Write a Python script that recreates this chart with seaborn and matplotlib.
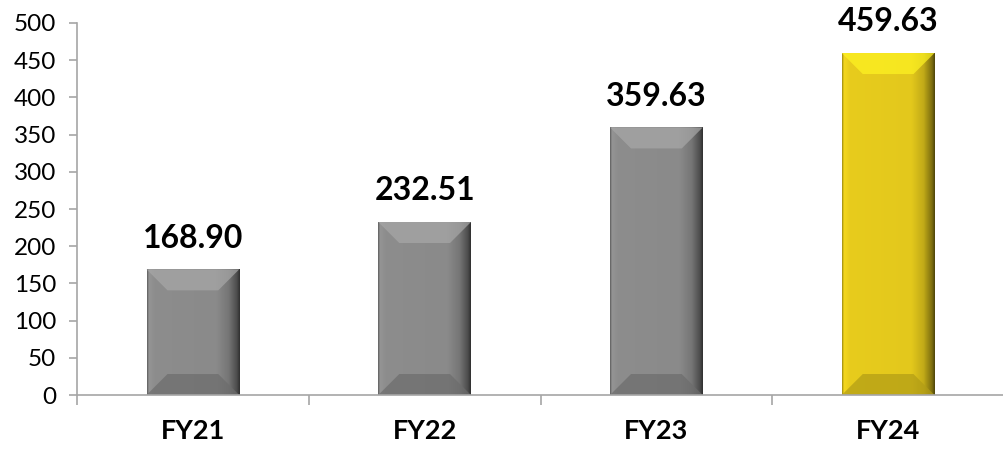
'''
Bar chart of yearly values with bevelled (Excel-style) bars.
'''
import numpy as np
import pandas as pd
import matplotlib
matplotlib.use('Agg')
import matplotlib.pyplot as plt
from matplotlib.patches import Polygon
from matplotlib.colors import to_rgb
import seaborn as sns

years = ['FY21', 'FY22', 'FY23', 'FY24']
values = [168.90, 232.51, 359.63, 459.63]
bar_colors = ['#8a8a8a', '#8a8a8a', '#8a8a8a', '#e3c81c']
yticks = list(range(0, 501, 50))

df = pd.DataFrame({'year': years, 'value': values})

sns.set_style('white')
plt.rcParams['font.family'] = ['Lato', 'DejaVu Sans']

fig = plt.figure(figsize=(10.04, 4.5), dpi=100)
ax = fig.add_axes([0.0767, 0.1222, 0.9233, 0.8267])

sns.barplot(data=df, x='year', y='value', hue='year', palette=bar_colors,
            width=0.4, legend=False, saturation=1, ax=ax)

ax.set_xlim(-0.5, 3.5)
ax.set_ylim(0, 500)
ax.set_yticks(yticks)
ax.set_xlabel('')
ax.set_ylabel('')

# bevel size in data units (about 21 px on both axes)
ax_w_px = 0.9233 * 1004
ax_h_px = 0.8267 * 450
bx = 21 / ax_w_px * 4
by = 21 / ax_h_px * 500


def shade(rgb, f):
    return tuple(np.clip(np.array(rgb) * f, 0, 1))


# horizontal shading profile across each bar
stops = [0.0, 0.02, 0.08, 0.75, 0.88, 0.97, 1.0]
mults = [0.70, 1.08, 1.02, 1.0, 0.85, 0.55, 0.35]
xs = np.linspace(0, 1, 200)
prof = np.interp(xs, stops, mults)

for patch, col in zip(ax.patches, bar_colors):
    x0 = patch.get_x()
    w = patch.get_width()
    h = patch.get_height()
    base = to_rgb(col)
    img = np.array([[shade(base, m) for m in prof]])
    im = ax.imshow(img, extent=(x0, x0 + w, 0, h), aspect='auto',
                   interpolation='bilinear', zorder=patch.get_zorder() + 0.1)
    im.set_clip_path(patch)
    top = Polygon([(x0, h), (x0 + w, h), (x0 + w - bx, h - by), (x0 + bx, h - by)],
                  closed=True, facecolor=shade(base, 1.22), edgecolor='none',
                  alpha=0.7, zorder=patch.get_zorder() + 0.2)
    bot = Polygon([(x0, 0), (x0 + w, 0), (x0 + w - bx, by), (x0 + bx, by)],
                  closed=True, facecolor=shade(base, 0.78), edgecolor='none',
                  alpha=0.7, zorder=patch.get_zorder() + 0.2)
    ax.add_patch(top)
    ax.add_patch(bot)
    ax.annotate(f'{h:.2f}', (x0 + w / 2, h), xytext=(0, 12), textcoords='offset points',
                ha='center', va='bottom', fontsize=23, fontweight='bold', color='black')

ax.set_xlim(-0.5, 3.5)
ax.set_ylim(0, 500)

for side in ['top', 'right']:
    ax.spines[side].set_visible(False)
for side in ['left', 'bottom']:
    ax.spines[side].set_color('#a6a6a6')
    ax.spines[side].set_linewidth(1.2)

ax.tick_params(axis='y', which='major', length=6, width=1.2, color='#a6a6a6',
               labelsize=17.5, pad=9, direction='out', left=True, labelcolor='black')
ax.tick_params(axis='x', which='major', length=0, labelsize=19.5, pad=17, labelcolor='black')
ax.set_xticks([-0.5, 0.5, 1.5, 2.5], minor=True)
ax.tick_params(axis='x', which='minor', length=7, width=1.2, color='#a6a6a6',
               direction='out', bottom=True)
for lbl in ax.get_xticklabels():
    lbl.set_fontweight('bold')

fig.savefig('out.png', dpi=100)
